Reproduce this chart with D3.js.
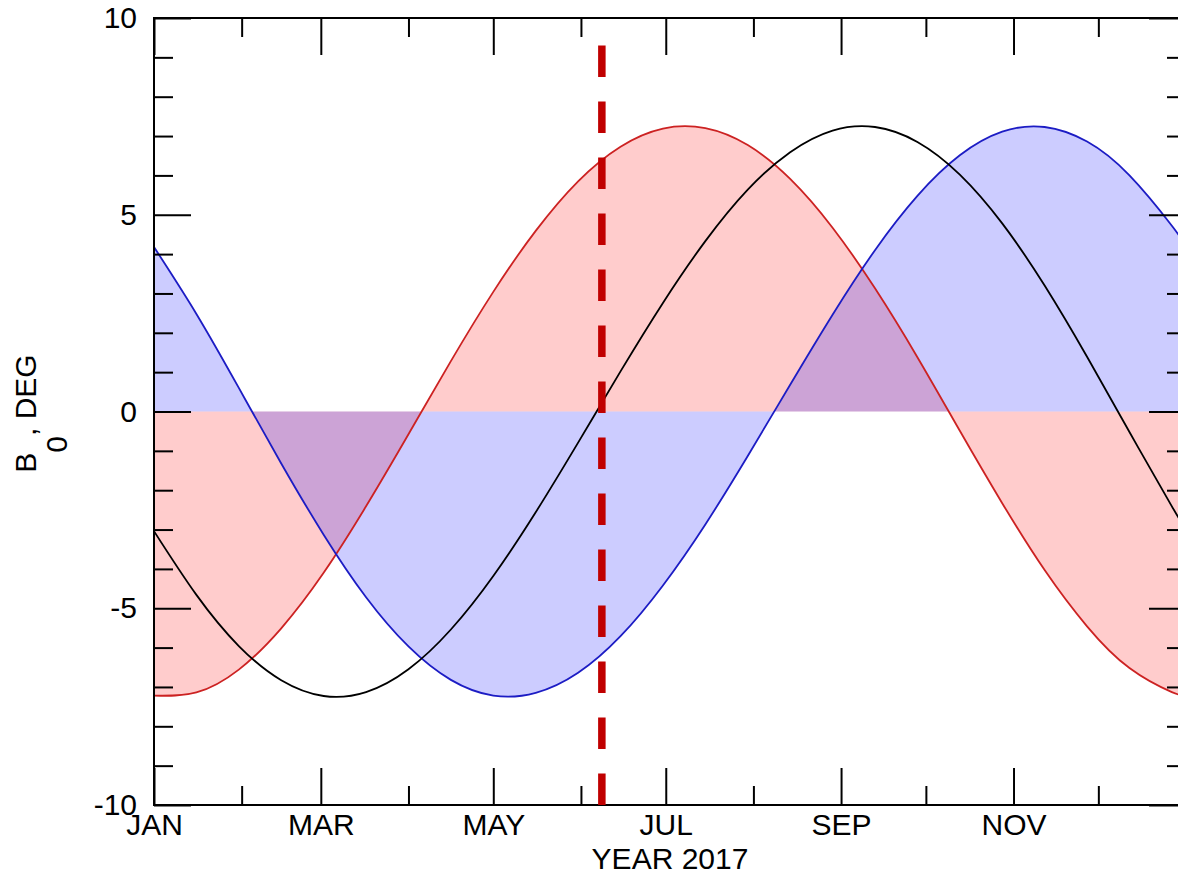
<!DOCTYPE html>
<html>
<head>
<meta charset="utf-8">
<script src="https://cdn.jsdelivr.net/npm/d3@7/dist/d3.min.js"></script>
<style>
  body { margin: 0; background: #fff; }
  svg { display: block; }
  text { font-family: "Liberation Sans", Arial, Helvetica, sans-serif; fill: #000; }
</style>
</head>
<body>
<svg id="chart" width="1178" height="876"></svg>
<script>
  // sample days (day of year 2017, 0 = Jan 1) and B0 values, degrees
  var days  = [0, 15, 30, 45, 60, 75, 90, 105, 120, 135, 150, 165, 180, 195, 210, 225, 240, 255, 270, 285, 300, 315, 330, 345, 360, 365];
  var earth = [-3.04, -4.66, -5.96, -6.83, -7.23, -7.13, -6.55, -5.54, -4.18, -2.56, -0.79, 1.02, 2.76, 4.33, 5.64, 6.59, 7.14, 7.23, 6.85, 6.02, 4.78, 3.20, 1.39, -0.52, -2.41, -3.01];
  var ahead = [-7.22, -7.14, -6.56, -5.51, -4.10, -2.41, -0.58, 1.28, 3.04, 4.59, 5.85, 6.73, 7.19, 7.20, 6.77, 5.91, 4.67, 3.13, 1.38, -0.49, -2.33, -4.03, -5.46, -6.52, -7.13, -7.22];
  var behind = [4.18, 2.48, 0.60, -1.32, -3.13, -4.72, -5.97, -6.82, -7.22, -7.15, -6.64, -5.71, -4.42, -2.87, -1.13, 0.68, 2.46, 4.10, 5.48, 6.51, 7.11, 7.23, 6.86, 6.00, 4.72, 4.21];

  var majorMonths = [0, 2, 4, 6, 8, 10];
  var minorMonths = [1, 3, 5, 7, 9, 11];
  var monthLabels = ["JAN", "MAR", "MAY", "JUL", "SEP", "NOV"];
  var yMajor = [-10, -5, 0, 5, 10];
  var yMinor = [-9, -8, -7, -6, -4, -3, -2, -1, 1, 2, 3, 4, 6, 7, 8, 9];
  var markDay = 158.4; // dashed line, early June

  (function() {
    'use strict';

    var plotLeft = 154, plotRight = 1186, plotTop = 18, plotBottom = 805
      , majorLen = 37
      , minorLen = 19
      , fontSize = 30;

    var svg = d3.select("#chart");

    function toDate(d) { return new Date(Date.UTC(2017, 0, 1) + d * 864e5); }
    function monthDate(m) { return new Date(Date.UTC(2017, m, 1)); }

    var x = d3.scaleUtc()
        .domain([monthDate(0), new Date(Date.UTC(2018, 0, 1))])
        .range([plotLeft, plotRight]);
    var y = d3.scaleLinear().domain([-10, 10]).range([plotBottom, plotTop]);

    function pts(vals) {
      return days.map(function(d, i) { return {date: toDate(d), v: vals[i]}; });
    }

    svg.append("defs").append("clipPath").attr("id", "plotclip")
      .append("rect")
        .attr("x", plotLeft).attr("y", plotTop)
        .attr("width", plotRight - plotLeft).attr("height", plotBottom - plotTop);

    var area = d3.area()
        .x(function(d) { return x(d.date); })
        .y0(y(0))
        .y1(function(d) { return y(d.v); })
        .curve(d3.curveNatural);
    var line = d3.line()
        .x(function(d) { return x(d.date); })
        .y(function(d) { return y(d.v); })
        .curve(d3.curveNatural);

    var plot = svg.append("g").attr("clip-path", "url(#plotclip)");

    plot.append("path").datum(pts(ahead)).attr("d", area)
        .attr("fill", "rgba(255,0,0,0.2)");
    plot.append("path").datum(pts(behind)).attr("d", area)
        .attr("fill", "rgba(0,0,255,0.2)");

    plot.append("path").datum(pts(ahead)).attr("d", line)
        .attr("fill", "none").attr("stroke", "#cc2222").attr("stroke-width", 1.8);
    plot.append("path").datum(pts(behind)).attr("d", line)
        .attr("fill", "none").attr("stroke", "#1c1cc4").attr("stroke-width", 1.8);
    plot.append("path").datum(pts(earth)).attr("d", line)
        .attr("fill", "none").attr("stroke", "#000").attr("stroke-width", 1.8);

    // axes, ticks pointing inward on all four sides
    function styleAxis(g) {
      g.attr("font-family", null).attr("font-size", null);
      g.select(".domain").remove();
      g.selectAll(".tick line").attr("stroke", "#000").attr("stroke-width", 2);
      g.selectAll(".tick text").style("font-size", fontSize + "px").attr("fill", "#000");
    }

    svg.append("g").attr("transform", "translate(0," + plotBottom + ")")
      .call(d3.axisBottom(x).tickValues(majorMonths.map(monthDate))
        .tickFormat(function(d, i) { return monthLabels[i]; })
        .tickSizeInner(-majorLen).tickSizeOuter(0).tickPadding(9))
      .call(styleAxis);
    svg.append("g").attr("transform", "translate(0," + plotBottom + ")")
      .call(d3.axisBottom(x).tickValues(minorMonths.map(monthDate))
        .tickFormat("").tickSizeInner(-minorLen).tickSizeOuter(0))
      .call(styleAxis);
    svg.append("g").attr("transform", "translate(0," + plotTop + ")")
      .call(d3.axisTop(x).tickValues(majorMonths.map(monthDate))
        .tickFormat("").tickSizeInner(-majorLen).tickSizeOuter(0))
      .call(styleAxis);
    svg.append("g").attr("transform", "translate(0," + plotTop + ")")
      .call(d3.axisTop(x).tickValues(minorMonths.map(monthDate))
        .tickFormat("").tickSizeInner(-minorLen).tickSizeOuter(0))
      .call(styleAxis);

    svg.append("g").attr("transform", "translate(" + plotLeft + ",0)")
      .call(d3.axisLeft(y).tickValues(yMajor)
        .tickFormat(function(d) { return String(d); })
        .tickSizeInner(-majorLen).tickSizeOuter(0).tickPadding(17))
      .call(styleAxis);
    svg.append("g").attr("transform", "translate(" + plotLeft + ",0)")
      .call(d3.axisLeft(y).tickValues(yMinor)
        .tickFormat("").tickSizeInner(-minorLen).tickSizeOuter(0))
      .call(styleAxis);
    svg.append("g").attr("transform", "translate(" + plotRight + ",0)")
      .call(d3.axisRight(y).tickValues(yMajor)
        .tickFormat("").tickSizeInner(-majorLen).tickSizeOuter(0))
      .call(styleAxis);
    svg.append("g").attr("transform", "translate(" + plotRight + ",0)")
      .call(d3.axisRight(y).tickValues(yMinor)
        .tickFormat("").tickSizeInner(-minorLen).tickSizeOuter(0))
      .call(styleAxis);

    svg.append("rect")
        .attr("x", plotLeft).attr("y", plotTop)
        .attr("width", plotRight - plotLeft).attr("height", plotBottom - plotTop)
        .attr("fill", "none").attr("stroke", "#000").attr("stroke-width", 2);

    // axis titles
    svg.append("text")
        .attr("x", (plotLeft + plotRight) / 2).attr("y", 869)
        .attr("text-anchor", "middle")
        .style("font-size", fontSize + "px")
        .text("YEAR 2017");

    var yt = svg.append("text")
        .attr("transform", "translate(36," + ((plotTop + plotBottom) / 2 + 2) + ") rotate(-90)")
        .attr("text-anchor", "middle")
        .style("font-size", fontSize + "px");
    yt.append("tspan").text("B");
    yt.append("tspan").attr("dy", 31).text("0");
    yt.append("tspan").attr("dy", -31).text(", DEG");

    // dashed marker, drawn from the bottom up
    var mx = x(toDate(markDay));
    svg.append("line")
        .attr("x1", mx).attr("x2", mx)
        .attr("y1", y(-10)).attr("y2", y(9.3))
        .attr("stroke", "#c00000")
        .attr("stroke-width", 7.5)
        .attr("stroke-dasharray", "31.6,24.4");
  })();
</script>
</body>
</html>
